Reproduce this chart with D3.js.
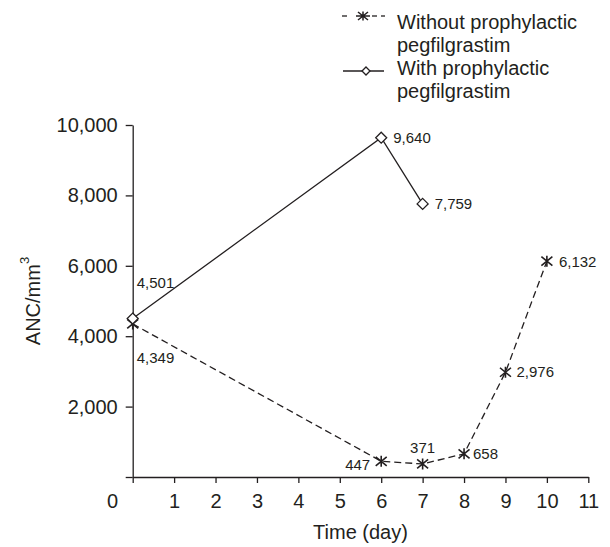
<!DOCTYPE html>
<html>
<head>
<meta charset="utf-8">
<script src="https://cdn.jsdelivr.net/npm/d3@7"></script>
<style>
body { margin: 0; background: #fff; }
text { font-family: "Liberation Sans", Arial, sans-serif; fill: #231f20; }
</style>
</head>
<body>
<script>
// data
let days = [0, 6, 7, 8, 9, 10];
let withoutPeg = [4349, 447, 371, 658, 2976, 6132];
let withDays = [0, 6, 7];
let withPeg = [4501, 9640, 7759];
let xTicks = d3.range(0, 12);
let yTicks = [0, 2000, 4000, 6000, 8000, 10000];
let legendNames = [["Without prophylactic", "pegfilgrastim"], ["With prophylactic", "pegfilgrastim"]];

// where each value label sits relative to its marker: [dx, dy, anchor]
let withoutLabelPos = [[4, 34, "start"], [-11, 3, "end"], [0, -16, "middle"], [9, 0, "start"], [11, 0, "start"], [12, 1, "start"]];
let withLabelPos = [[4, -36, "start"], [12, 0, "start"], [12, 0, "start"]];

let size = {width: 610, height: 547};
let ink = "#231f20";

let svg = d3.select("body").append("svg")
    .attr("width", size.width)
    .attr("height", size.height);

let x = d3.scaleLinear().domain([0, 11]).range([132.7, 588.3]);
let y = d3.scaleLinear().domain([0, 10000]).range([477, 125]);

let fmt = d3.format(",");

let yAxis = g => g
    .attr("transform", `translate(${x(0)},0)`)
    .call(d3.axisLeft(y).tickValues(yTicks).tickSize(7).tickSizeOuter(0).tickPadding(8)
        .tickFormat(d => d === 0 ? "" : fmt(d)))
    .call(g => g.selectAll("path,line").attr("stroke", ink).attr("stroke-width", 1.3))
    .call(g => g.selectAll("text").attr("font-size", 20).attr("font-family", null).attr("fill", ink));

let xAxis = g => g
    .attr("transform", `translate(0,${y(0)})`)
    .call(d3.axisBottom(x).tickValues(xTicks).tickSize(6).tickSizeOuter(0).tickPadding(11))
    .call(g => g.selectAll("path,line").attr("stroke", ink).attr("stroke-width", 1.3))
    .call(g => g.selectAll("text").attr("font-size", 20).attr("font-family", null).attr("fill", ink))
    .call(g => g.selectAll(".tick").filter(d => d === 0).select("text")
        .attr("text-anchor", "end").attr("x", -15));

svg.append("g").call(xAxis);
svg.append("g").call(yAxis);

// axis titles
svg.append("text")
    .attr("x", (x.range()[0] + x.range()[1]) / 2)
    .attr("y", 539)
    .attr("text-anchor", "middle")
    .attr("font-size", 20)
    .text("Time (day)");

let yTitle = svg.append("text")
    .attr("transform", `translate(39.5,${(y.range()[0] + y.range()[1]) / 2}) rotate(-90)`)
    .attr("text-anchor", "middle")
    .attr("font-size", 20);
yTitle.append("tspan").text("ANC/mm");
yTitle.append("tspan").attr("font-size", 13).attr("dy", -11).text("3");

let asterisk = "M0,-5.5V5.5M-5.5,-4.5L5.5,4.5M-5.5,4.5L5.5,-4.5";
let diamond = "M0,-5.5L5.5,0L0,5.5L-5.5,0Z";
let smallAsterisk = "M-7,0H7M-5,-4L5,4M-5,4L5,-4M0,-4.5V4.5";
let smallDiamond = "M0,-4L4,0L0,4L-4,0Z";

let withoutData = days.map((d, i) => ({day: d, value: withoutPeg[i], pos: withoutLabelPos[i]}));
let withData = withDays.map((d, i) => ({day: d, value: withPeg[i], pos: withLabelPos[i]}));

let line = d3.line()
    .x(d => x(d.day))
    .y(d => y(d.value));

svg.append("path")
    .datum(withoutData)
    .attr("fill", "none")
    .attr("stroke", ink)
    .attr("stroke-width", 1.3)
    .attr("stroke-dasharray", "7,4")
    .attr("d", line);

svg.append("path")
    .datum(withData)
    .attr("fill", "none")
    .attr("stroke", ink)
    .attr("stroke-width", 1.3)
    .attr("d", line);

svg.append("g").selectAll("path")
    .data(withoutData)
    .join("path")
    .attr("transform", d => `translate(${x(d.day)},${y(d.value)})`)
    .attr("d", asterisk)
    .attr("fill", "none")
    .attr("stroke", ink)
    .attr("stroke-width", 1.6);

svg.append("g").selectAll("path")
    .data(withData)
    .join("path")
    .attr("transform", d => `translate(${x(d.day)},${y(d.value)})`)
    .attr("d", diamond)
    .attr("fill", "#fff")
    .attr("stroke", ink)
    .attr("stroke-width", 1.3);

// value labels
svg.append("g").selectAll("text")
    .data(withoutData.concat(withData))
    .join("text")
    .attr("x", d => x(d.day) + d.pos[0])
    .attr("y", d => y(d.value) + d.pos[1])
    .attr("dy", "0.35em")
    .attr("text-anchor", d => d.pos[2])
    .attr("font-size", 15)
    .text(d => fmt(d.value));

// legend
let legend = svg.append("g");

let l1 = legend.append("g");
[[342, 347], [372, 377], [381, 385]].forEach(s => {
    l1.append("line")
        .attr("x1", s[0]).attr("x2", s[1])
        .attr("y1", 16).attr("y2", 16)
        .attr("stroke", ink).attr("stroke-width", 1.3);
});
l1.append("path")
    .attr("transform", "translate(363,16)")
    .attr("d", smallAsterisk)
    .attr("fill", "none")
    .attr("stroke", ink)
    .attr("stroke-width", 1.5);

let l2 = legend.append("g");
l2.append("line")
    .attr("x1", 343).attr("x2", 384)
    .attr("y1", 71).attr("y2", 71)
    .attr("stroke", ink).attr("stroke-width", 1.3);
l2.append("path")
    .attr("transform", "translate(366,71)")
    .attr("d", smallDiamond)
    .attr("fill", "#fff")
    .attr("stroke", ink)
    .attr("stroke-width", 1.3);

[l1, l2].forEach((g, k) => {
    legendNames[k].forEach((t, i) => {
        g.append("text")
            .attr("x", 397)
            .attr("y", 29 + k * 46 + i * 23)
            .attr("font-size", 20)
            .text(t);
    });
});
</script>
</body>
</html>
